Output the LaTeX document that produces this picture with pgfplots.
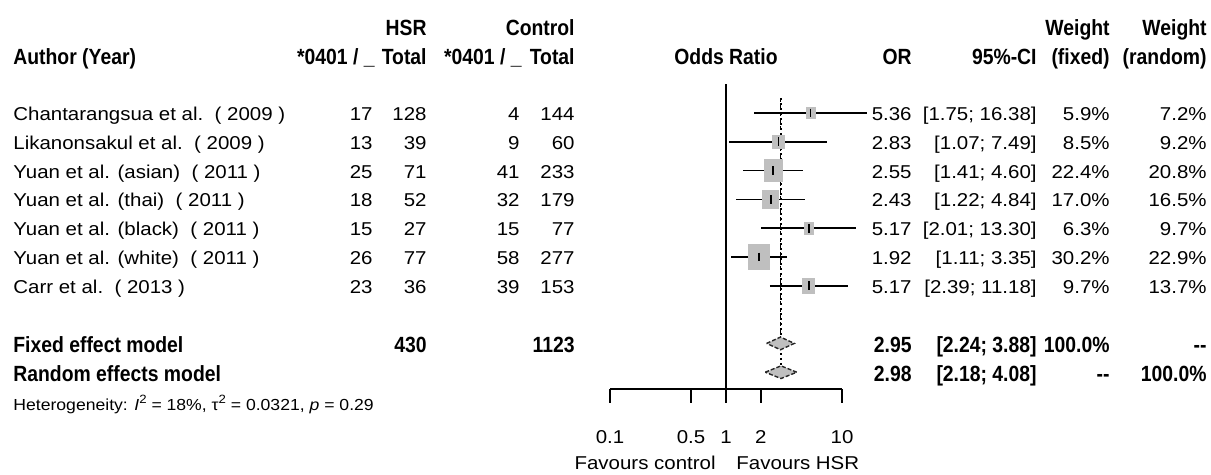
\documentclass[border=0pt]{standalone}
\usepackage{fontspec}
\setmainfont{Liberation Sans}[FakeStretch=1.1]
\newfontfamily\bfam{Liberation Sans Bold}[FakeStretch=0.88]
\usepackage{pgfplots}
\pgfplotsset{compat=1.18}
\definecolor{sqgray}{HTML}{BFBFBF}
\newcommand{\R}{\fontsize{9.3}{11}\selectfont}
\newcommand{\B}{\bfam\fontsize{11}{13}\selectfont}
\newcommand{\Hs}{\fontsize{8}{10}\selectfont}
\newcommand{\srow}[9]{%
 \node[L] at (13,\yb) {\R #1};
 \node[Rt] at (373,\yb) {\R #2};
 \node[Rt] at (427,\yb) {\R #3};
 \node[Rt] at (520,\yb) {\R #4};
 \node[Rt] at (575,\yb) {\R #5};
 \node[Rt] at (912,\yb) {\R #6};
 \node[Rt] at (1037,\yb) {\R #7};
 \node[Rt] at (1110,\yb) {\R #8};
 \node[Rt] at (1207,\yb) {\R #9};
}
\begin{document}
\begin{tikzpicture}[x=0.5pt,y=-0.5pt,
  L/.style={anchor=base west, inner sep=0pt},
  Rt/.style={anchor=base east, inner sep=0pt},
  C/.style={anchor=base, inner sep=0pt}]
\useasboundingbox (0,0) rectangle (1211,475);
\coordinate (AX) at (610,389);
\begin{axis}[at={(AX)}, anchor=south west, scale only axis,
  width=116pt, height=194.5pt,
  xmode=log, xmin=0.1, xmax=10, ymin=-9.5833, ymax=3.9236,
  clip=false, axis x line*=bottom, hide y axis,
  x axis line style={-, line width=0.8pt},
  xtick={0.1,0.5,1,2,10}, xticklabels={0.1,0.5,1,2,10},
  minor xtick={}, tick align=outside, major tick length=7pt,
  every tick/.style={black, line width=0.8pt},
  xticklabel style={font=\R, anchor=center, yshift=-17pt, inner sep=0pt},
  ]
% reference line at 1
\addplot[line width=0.8pt] coordinates {(1,1.0) (1,-9.5833)};
% fixed and random effect lines
\addplot[line width=0.7pt, dash pattern=on 2pt off 1.5pt] coordinates {(2.95,0.52) (2.95,-7.78)};
\addplot[line width=0.7pt, dash pattern=on 1pt off 1.5pt] coordinates {(2.98,0.52) (2.98,-8.78)};
% squares (size by fixed weight)
\addplot[scatter, only marks, mark=square*,
  scatter/use mapped color={draw=sqgray, fill=sqgray},
  mark options={yscale=1.2},
  visualization depends on={0.95*sqrt(\thisrow{wf}) \as \msz},
  scatter/@pre marker code/.append style={/tikz/mark size=\msz}]
  table[x=or, y=y] {
or y wf
5.36 0 5.9
2.83 -1 8.5
2.55 -2 22.4
2.43 -3 17.0
5.17 -4 6.3
1.92 -5 30.2
5.17 -6 9.7
};
% confidence intervals
\addplot[line width=0.8pt] coordinates {(1.75,0) (16.38,0)};
\addplot[line width=0.8pt] coordinates {(1.07,-1) (7.49,-1)};
\addplot[line width=0.8pt] coordinates {(1.41,-2) (4.60,-2)};
\addplot[line width=0.8pt] coordinates {(1.22,-3) (4.84,-3)};
\addplot[line width=0.8pt] coordinates {(2.01,-4) (13.30,-4)};
\addplot[line width=0.8pt] coordinates {(1.11,-5) (3.35,-5)};
\addplot[line width=0.8pt] coordinates {(2.39,-6) (11.18,-6)};
% point estimates
\addplot[only marks, mark=|, mark size=2.2pt, mark options={line width=0.8pt}] table[x=or, y=y] {
or y
5.36 0
2.83 -1
2.55 -2
2.43 -3
5.17 -4
1.92 -5
5.17 -6
};
% diamonds
\addplot[fill=sqgray, draw=black!85, line width=0.7pt, dash pattern=on 2pt off 1pt]
  coordinates {(2.24,-8) (2.95,-7.78) (3.88,-8) (2.95,-8.22)} --cycle;
\addplot[fill=sqgray, draw=black!85, line width=0.7pt, dash pattern=on 2pt off 1pt]
  coordinates {(2.18,-9) (2.98,-8.78) (4.08,-9) (2.98,-9.22)} --cycle;
\end{axis}
% headers
\node[Rt] at (427,35.6) {\B HSR};
\node[Rt] at (575,35.6) {\B Control};
\node[Rt] at (1110,35.6) {\B Weight};
\node[Rt] at (1207,35.6) {\B Weight};
\node[L] at (13,64.4) {\B Author (Year)};
\node[Rt] at (375,64.4) {\B *0401 / \_};
\node[Rt] at (427,64.4) {\B Total};
\node[Rt] at (522,64.4) {\B *0401 / \_};
\node[Rt] at (575,64.4) {\B Total};
\node[C] at (726,64.4) {\B Odds Ratio};
\node[Rt] at (912,64.4) {\B OR};
\node[Rt] at (1037,64.4) {\B 95\%-CI};
\node[Rt] at (1110,64.4) {\B (fixed)};
\node[Rt] at (1207,64.4) {\B (random)};
% study rows
\def\yb{120.5}\srow{Chantarangsua et al.\ \ ( 2009 )}{17}{128}{4}{144}{5.36}{[1.75; 16.38]}{5.9\%}{7.2\%}
\def\yb{149.3}\srow{Likanonsakul et al.\ \ ( 2009 )}{13}{39}{9}{60}{2.83}{[1.07; 7.49]}{8.5\%}{9.2\%}
\def\yb{178.1}\srow{Yuan et al. (asian)\ \ ( 2011 )}{25}{71}{41}{233}{2.55}{[1.41; 4.60]}{22.4\%}{20.8\%}
\def\yb{206.9}\srow{Yuan et al. (thai)\ \ ( 2011 )}{18}{52}{32}{179}{2.43}{[1.22; 4.84]}{17.0\%}{16.5\%}
\def\yb{235.7}\srow{Yuan et al. (black)\ \ ( 2011 )}{15}{27}{15}{77}{5.17}{[2.01; 13.30]}{6.3\%}{9.7\%}
\def\yb{264.5}\srow{Yuan et al. (white)\ \ ( 2011 )}{26}{77}{58}{277}{1.92}{[1.11; 3.35]}{30.2\%}{22.9\%}
\def\yb{293.3}\srow{Carr et al.\ \ ( 2013 )}{23}{36}{39}{153}{5.17}{[2.39; 11.18]}{9.7\%}{13.7\%}
% pooled rows
\node[L] at (13,352.4) {\B Fixed effect model};
\node[Rt] at (427,352.4) {\B 430};
\node[Rt] at (575,352.4) {\B 1123};
\node[Rt] at (912,352.4) {\B 2.95};
\node[Rt] at (1037,352.4) {\B [2.24; 3.88]};
\node[Rt] at (1110,352.4) {\B 100.0\%};
\node[Rt] at (1207,352.4) {\B --};
\node[L] at (13,381.2) {\B Random effects model};
\node[Rt] at (912,381.2) {\B 2.98};
\node[Rt] at (1037,381.2) {\B [2.18; 4.08]};
\node[Rt] at (1110,381.2) {\B --};
\node[Rt] at (1207,381.2) {\B 100.0\%};
\node[L] at (13,411) {\Hs Heterogeneity: \textit{I}\raisebox{0.9ex}{\fontsize{6}{7}\selectfont 2} = 18\%, τ\raisebox{0.9ex}{\fontsize{6}{7}\selectfont 2} = 0.0321, \textit{p} = 0.29};
% x label
\node[anchor=base east, inner sep=0pt] at (716,469.7) {\R Favours control};
\node[anchor=base west, inner sep=0pt] at (736,469.7) {\R Favours HSR};
\end{tikzpicture}
\end{document}
